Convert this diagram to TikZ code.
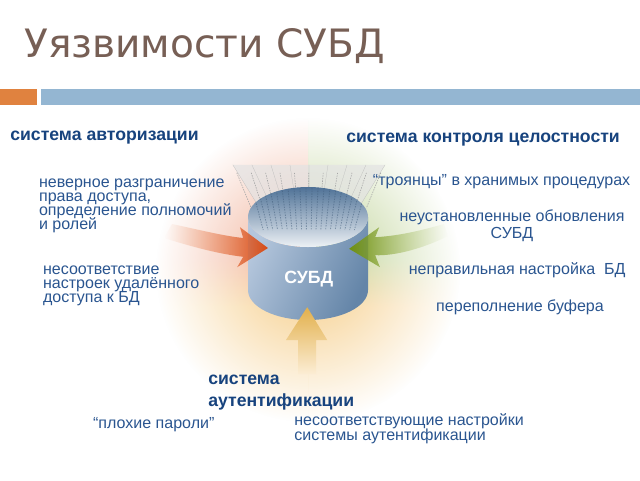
\documentclass[tikz,border=0pt]{standalone}
\usepackage{fontspec}
\setmainfont{Liberation Sans}
\newfontfamily\titlefont{DejaVu Sans}
\usetikzlibrary{fadings,positioning}
\definecolor{titlebrown}{HTML}{775F55}
\definecolor{barorange}{HTML}{E0823F}
\definecolor{barblue}{HTML}{94B6D2}
\definecolor{textblue}{HTML}{2A5590}
\definecolor{headblue}{HTML}{17437E}
\definecolor{glowred}{HTML}{F0A88C}
\definecolor{glowgreen}{HTML}{B9CF8C}
\definecolor{glowyellow}{HTML}{F6CC85}
\definecolor{bodylight}{HTML}{B4C6DC}
\definecolor{bodydark}{HTML}{4C6D93}
\definecolor{bodyright}{HTML}{6485A8}
\definecolor{toptop}{HTML}{4F7297}
\definecolor{topmid}{HTML}{8FA8C2}
\definecolor{topbottom}{HTML}{EDF1F5}
\definecolor{arrowred}{HTML}{D84A14}
\definecolor{arrowredpale}{HTML}{EE8F60}
\definecolor{arrowgreen}{HTML}{6F9010}
\definecolor{arrowgreenpale}{HTML}{B5CB7A}
\definecolor{arrowyellow}{HTML}{E2B04C}
\pgfdeclareverticalshading{glowleft}{100bp}{color(0bp)=(glowyellow); color(44bp)=(glowyellow); color(52bp)=(glowred); color(100bp)=(glowred)}
\pgfdeclareverticalshading{glowright}{100bp}{color(0bp)=(glowyellow); color(44bp)=(glowyellow); color(52bp)=(glowgreen); color(100bp)=(glowgreen)}
\tikzfading[name=glowfade, inner color=transparent!0, outer color=transparent!100]
\tikzfading[name=tailright, left color=transparent!0, middle color=transparent!0, right color=transparent!100]
\tikzfading[name=tailleft, left color=transparent!100, middle color=transparent!0, right color=transparent!0]
\tikzset{
  labelbox/.style={inner sep=0, anchor=base west, align=left, font=\fontsize{11.4}{9.9}\selectfont, text=textblue},
  centerbox/.style={labelbox, anchor=base, align=center},
  headbox/.style={inner sep=0, anchor=base west, align=left, font=\fontsize{12.55}{15.6}\selectfont\bfseries, text=headblue},
  tablegrid/.style={draw=gray!55, line width=0.15pt},
  tablemark/.style={draw=gray!70, line width=0.45pt, dash pattern=on 1pt off 0.8pt}
}
\begin{document}
\begin{tikzpicture}
      \useasboundingbox (0,0) rectangle (16,-12);
      \fill[white] (0,0) rectangle (16,-12);

      % title and bars
      \node[inner sep=0, anchor=base west, text=titlebrown, font=\titlefont\fontsize{27.8}{30}\selectfont] (title) at (0.6,-1.44) {Уязвимости СУБД};
      \fill[barorange] (0,-2.22) rectangle (0.93,-2.63);
      \fill[barblue] (1.03,-2.22) rectangle (16,-2.63);

      % glow behind the cylinder
      \begin{scope}
        \clip (0,0) rectangle (7.7,-12);
        \path[shading=glowleft, path fading=glowfade] (7.7,-6.75) circle (3.8);
      \end{scope}
      \begin{scope}
        \clip (7.7,0) rectangle (16,-12);
        \path[shading=glowright, path fading=glowfade] (7.7,-6.75) circle (3.8);
      \end{scope}

      % table sheet behind the cylinder
      \fill[gray!22, opacity=0.7] (5.82,-4.12) -- (9.63,-4.12) -- (8.9,-5.3) -- (6.55,-5.3) -- cycle;
      \foreach \i in {0,...,8} {
        \draw[tablegrid] ({5.82+\i*0.476},-4.12) -- ({6.55+\i*0.294},-5.3);
      }
      \foreach \i in {-0.9,-0.72,...,0.9} {
        \draw[tablemark] ({7.72+\i*2.0},-4.32) -- ({7.72+\i*1.6},-5.2);
      }

      % cylinder
      \path[left color=bodylight, middle color=bodydark, right color=bodyright, shading angle=65]
        (6.2,-5.425) arc[start angle=180, end angle=360, x radius=1.5, y radius=0.75]
        -- (9.2,-7.25) arc[start angle=0, end angle=-180, x radius=1.5, y radius=0.75] -- cycle;
      \path[top color=toptop, middle color=topmid, bottom color=topbottom]
        (7.7,-5.425) ellipse [x radius=1.5, y radius=0.75];
      \begin{scope}
        \clip (7.7,-5.425) ellipse [x radius=1.5, y radius=0.75];
        \foreach \i in {-1.4,-1.25,...,1.45} {
          \draw[toptop!80!black, line width=0.6pt, dash pattern=on 1pt off 0.9pt, opacity=0.5] ({7.7+\i},-4.7) -- ({7.7+\i*0.8},-5.75);
        }
      \end{scope}
      \node[inner sep=0, anchor=base, text=white, font=\fontsize{12.6}{12}\selectfont\bfseries] (dbms) at (7.72,-7.08) {СУБД};

      % arrows
      \path[left color=arrowredpale, right color=arrowred, path fading=tailright, fading angle=180]
        (4.3,-5.6) .. controls (5.0,-5.75) and (5.6,-5.9) .. (6.08,-5.95)
        -- (6.0,-5.68) -- (6.7,-6.2) -- (5.93,-6.68) -- (6.08,-6.42)
        .. controls (5.5,-6.35) and (4.9,-6.2) .. (4.1,-5.95) -- cycle;
      \path[left color=arrowgreen, right color=arrowgreenpale, path fading=tailleft, fading angle=180]
        (11.1,-5.6) .. controls (10.4,-5.8) and (9.9,-5.9) .. (9.38,-5.93)
        -- (9.48,-5.68) -- (8.73,-6.22) -- (9.5,-6.68) -- (9.38,-6.38)
        .. controls (9.9,-6.4) and (10.6,-6.2) .. (11.2,-5.9) -- cycle;
      \path[bottom color=glowyellow!35, top color=arrowyellow]
        (7.45,-9.35) -- (7.45,-8.5) -- (7.15,-8.5) -- (7.68,-7.68) -- (8.18,-8.5) -- (7.9,-8.5) -- (7.9,-9.35) -- cycle;

      % labels
      \node[headbox] (auth) at (0.25,-3.52) {система авторизации};
      \node[headbox] (integrity) at (8.65,-3.56) {система контроля целостности};
      \node[labelbox] (access) at (0.97,-5.74) {\smash{неверное разграничение}\\\smash{права доступа,}\\\smash{определение полномочий}\\\smash{и ролей}};
      \node[labelbox] (remote) at (1.07,-7.57) {\smash{несоответствие}\\\smash{настроек удалённого}\\\smash{доступа к БД}};
      \node[centerbox] (trojans) at (12.54,-4.63) {“троянцы” в хранимых процедурах};
      \node[centerbox] (updates) at (12.8,-5.97) {неустановленные обновления\\[1pt]СУБД};
      \node[centerbox] (config) at (12.93,-6.85) {неправильная настройка~ БД};
      \node[centerbox] (buffer) at (13.0,-7.78) {переполнение буфера};
      \node[headbox] (authn) at (5.2,-10.15) {система\\аутентификации};
      \node[labelbox] (passwords) at (2.32,-10.7) {“плохие пароли”};
      \node[labelbox] (authnconf) at (7.35,-11.0) {\smash{несоответствующие настройки}\\[0.7pt]\smash{системы аутентификации}};
\end{tikzpicture}
\end{document}
